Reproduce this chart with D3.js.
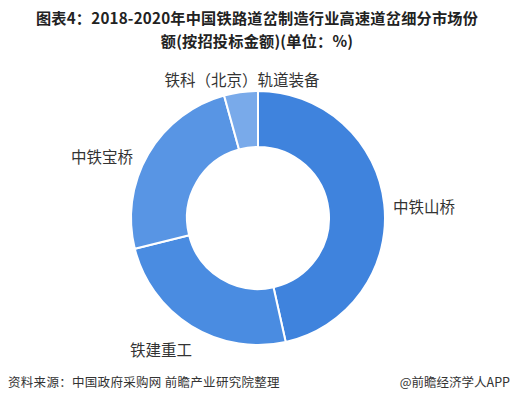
<!DOCTYPE html>
<html><head><meta charset="utf-8">
<script src="https://cdn.jsdelivr.net/npm/d3@7"></script>
<style>
html,body{margin:0;padding:0;background:#fff;}
svg{display:block;font-family:"Noto Sans CJK SC","Noto Sans",sans-serif;}
</style></head>
<body>
<svg id="c" width="514" height="405"></svg>
<script>
const categories = ["中铁山桥", "铁建重工", "中铁宝桥", "铁科（北京）轨道装备"];
const values = [46.5, 24.6, 24.6, 4.3];
const colors = ["#3f83dd", "#4a8ce1", "#5895e4", "#79aaea"];
const titleLines = ["图表4：2018-2020年中国铁路道岔制造行业高速道岔细分市场份", "额(按招投标金额)(单位：%)"];
const sourceText = "资料来源：中国政府采购网 前瞻产业研究院整理";
const brandText = "@前瞻经济学人APP";

const svg = d3.select("#c");
const cx = 258, cy = 218, rOuter = 127, rInner = 71;

svg.selectAll("text.title").data(titleLines).join("text")
  .attr("class","title")
  .attr("x", 257).attr("y", (d,i)=>24 + i*22.5)
  .attr("text-anchor","middle")
  .attr("font-size", 15.2).attr("font-weight", "bold").attr("fill", "#222")
  .attr("letter-spacing", 0.2)
  .text(d=>d);

const pie = d3.pie().sort(null).value(d=>d)(values);
const arc = d3.arc().innerRadius(rInner).outerRadius(rOuter);
const g = svg.append("g").attr("transform", `translate(${cx},${cy})`);
g.selectAll("path").data(pie).join("path")
  .attr("d", arc)
  .attr("fill", (d,i)=>colors[i])
  .attr("stroke", "#fff").attr("stroke-width", 2);

// labels
const labelPos = [
  {x: 393, y: 213, anchor: "start"},
  {x: 130, y: 356, anchor: "start"},
  {x: 133, y: 163, anchor: "end"},
  {x: 242, y: 86, anchor: "middle"}
];
svg.selectAll("text.lab").data(categories).join("text")
  .attr("class","lab")
  .attr("x", (d,i)=>labelPos[i].x).attr("y", (d,i)=>labelPos[i].y)
  .attr("text-anchor", (d,i)=>labelPos[i].anchor)
  .attr("font-size", 15.5).attr("fill", "#333")
  .text(d=>d);

svg.append("text").attr("x", 8).attr("y", 387)
  .attr("font-size", 12.5).attr("fill", "#333").attr("letter-spacing", 0.3)
  .text(sourceText);
svg.append("text").attr("x", 510).attr("y", 387).attr("text-anchor","end")
  .attr("font-size", 12.5).attr("fill", "#333")
  .text(brandText);
</script>
</body></html>
